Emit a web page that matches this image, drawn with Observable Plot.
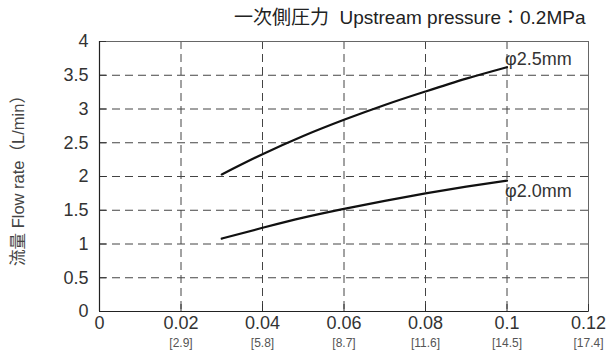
<!DOCTYPE html>
<html>
<head>
<meta charset="utf-8">
<script src="https://cdn.jsdelivr.net/npm/d3@7"></script>
<script src="https://cdn.jsdelivr.net/npm/@observablehq/plot@0.6"></script>
<style>
  html, body { margin: 0; padding: 0; background: #fff; }
  #chart svg { font-family: "Liberation Sans", Arial, "Noto Sans CJK JP", sans-serif; }
</style>
</head>
<body>
<div id="chart"></div>
<script>
const titleText = "一次側圧力  Upstream pressure：0.2MPa";
const yLabel = "流量 Flow rate（L/min）";
const xTicks = [0, 0.02, 0.04, 0.06, 0.08, 0.1, 0.12];
const xTickLabels = ["0", "0.02", "0.04", "0.06", "0.08", "0.1", "0.12"];
const xSubLabels = ["", "[2.9]", "[5.8]", "[8.7]", "[11.6]", "[14.5]", "[17.4]"];
const yTicks = [0, 0.5, 1, 1.5, 2, 2.5, 3, 3.5, 4];
const yTickLabels = ["0", "0.5", "1", "1.5", "2", "2.5", "3", "3.5", "4"];
const flowX = [0.03, 0.04, 0.05, 0.06, 0.07, 0.08, 0.09, 0.1];
const flow25 = [2.03, 2.33, 2.60, 2.84, 3.06, 3.26, 3.45, 3.62];
const flow20 = [1.08, 1.24, 1.39, 1.52, 1.64, 1.75, 1.85, 1.94];
const seriesNames = ["φ2.5mm", "φ2.0mm"];

const rows = [
  ...flowX.map((x, i) => ({x, y: flow25[i], s: seriesNames[0]})),
  ...flowX.map((x, i) => ({x, y: flow20[i], s: seriesNames[1]}))
];
const ends = [
  {x: flowX[flowX.length - 1], y: flow25[flow25.length - 1], s: seriesNames[0]},
  {x: flowX[flowX.length - 1], y: flow20[flow20.length - 1], s: seriesNames[1]}
];

const plot = Plot.plot({
  width: 615,
  height: 353,
  marginLeft: 99,
  marginRight: 27,
  marginTop: 41,
  marginBottom: 42,
  style: {fontFamily: '"Liberation Sans", Arial, "Noto Sans CJK JP", sans-serif', color: "#333"},
  x: {domain: [0, 0.12], label: null},
  y: {domain: [0, 4], label: null},
  marks: [
    Plot.gridX(xTicks.slice(1, -1), {stroke: "#444", strokeOpacity: 1, strokeDasharray: "8,5", strokeWidth: 1}),
    Plot.gridY(yTicks.slice(1, -1), {stroke: "#444", strokeOpacity: 1, strokeDasharray: "8,5", strokeWidth: 1}),
    Plot.frame({stroke: "#666", strokeWidth: 1}),
    Plot.axisX(xTicks, {tickSize: -7, text: null, stroke: "#333", label: null}),
    Plot.axisX(xTicks, {tickSize: 0, tickPadding: 5, fontSize: 18, fill: "#333", label: null,
      tickFormat: (d) => xTickLabels[xTicks.indexOf(d)]}),
    Plot.axisX(xTicks, {tickSize: 0, tickPadding: 27, fontSize: 12, fill: "#555", label: null,
      tickFormat: (d) => xSubLabels[xTicks.indexOf(d)]}),
    Plot.axisY(yTicks, {tickSize: -7, text: null, stroke: "#333", label: null}),
    Plot.axisY(yTicks, {tickSize: 0, tickPadding: 11, fontSize: 18, fill: "#333", label: null,
      tickFormat: (d) => yTickLabels[yTicks.indexOf(d)]}),
    Plot.ruleX([0], {stroke: "#222", strokeWidth: 1.2}),
    Plot.ruleY([0], {stroke: "#222", strokeWidth: 1.2}),
    Plot.line(rows, {x: "x", y: "y", z: "s", stroke: "#111", strokeWidth: 2.2, curve: "monotone-x"}),
    Plot.text(ends, {x: "x", y: "y", text: "s", textAnchor: "start", dx: -2, dy: -8,
      fontSize: 18, fill: "#333", filter: (d) => d.s === seriesNames[0]}),
    Plot.text(ends, {x: "x", y: "y", text: "s", textAnchor: "start", dx: -2, dy: 11,
      fontSize: 18, fill: "#333", filter: (d) => d.s === seriesNames[1]}),
    Plot.text([titleText], {frameAnchor: "top-right", text: (d) => d, dy: -31, dx: -3, fontSize: 19, fill: "#222", lineAnchor: "top"}),
    Plot.text([yLabel], {frameAnchor: "left", text: (d) => d, rotate: -90, textAnchor: "middle", dx: -81, fontSize: 16.5, fill: "#444"})
  ]
});
document.getElementById("chart").appendChild(plot);
</script>
</body>
</html>
